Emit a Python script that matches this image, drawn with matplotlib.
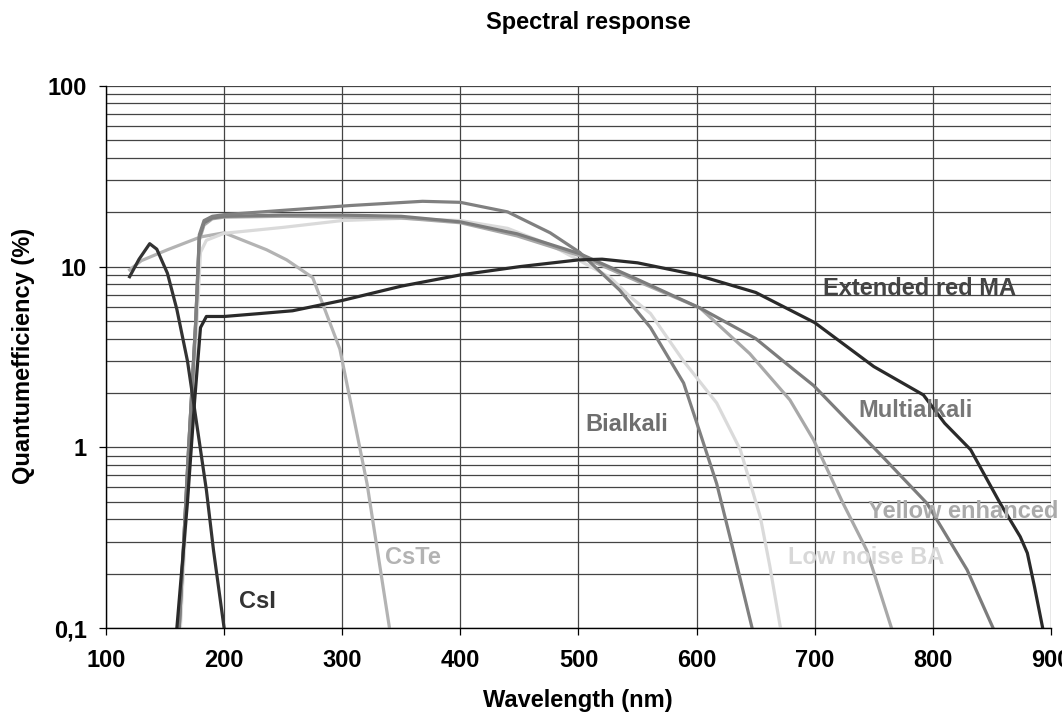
import matplotlib.pyplot as plt
from matplotlib.ticker import FixedLocator, FuncFormatter, LogLocator, NullFormatter

# wavelength (nm) / quantum efficiency (%)
csi_wl = [120, 128, 137, 143, 152, 160, 169, 174, 185, 191, 200]
csi_qe = [8.8, 11.0, 13.4, 12.5, 9.2, 5.8, 3.0, 1.8, 0.58, 0.27, 0.1]

cste_wl = [120, 130, 152, 180, 200, 236, 253, 275, 298, 321, 340]
cste_qe = [9.6, 10.8, 12.4, 14.6, 15.4, 12.4, 10.9, 8.7, 3.5, 0.63, 0.1]

ered_wl = [160, 169, 175, 180, 185, 200, 230, 258, 300, 350, 400, 450, 500, 520,
           550, 600, 650, 700, 750, 792, 810, 832, 857, 874, 880, 886, 893]
ered_qe = [0.1, 0.5, 1.8, 4.6, 5.3, 5.3, 5.5, 5.7, 6.5, 7.8, 9.0, 10.0, 10.9, 11.0,
           10.5, 9.0, 7.2, 4.9, 2.8, 1.95, 1.36, 0.97, 0.49, 0.32, 0.26, 0.17, 0.1]

bia_wl = [162, 170, 176, 179, 183, 190, 200, 250, 307, 368, 400, 440, 476, 501,
          535, 561, 589, 603, 617, 631, 647]
bia_qe = [0.1, 1.0, 5.0, 15.0, 18.0, 19.0, 19.4, 20.5, 21.8, 23.0, 22.7, 20.1, 15.4, 12.0,
          7.4, 4.6, 2.27, 1.2, 0.63, 0.27, 0.1]

multi_wl = [162, 170, 176, 179, 183, 190, 200, 250, 300, 350, 400, 448, 501, 550,
            603, 650, 682, 699, 758, 795, 829, 851]
multi_qe = [0.1, 1.0, 5.0, 14.5, 17.5, 18.6, 19.0, 19.3, 19.3, 19.0, 17.7, 15.2, 11.8, 8.5,
            5.9, 4.0, 2.7, 2.2, 0.88, 0.49, 0.21, 0.1]

yellow_wl = [162, 170, 176, 179, 183, 190, 200, 250, 300, 350, 400, 448, 501, 550,
             603, 645, 679, 699, 724, 744, 765]
yellow_qe = [0.1, 1.0, 5.0, 14.0, 17.0, 18.4, 18.8, 19.0, 18.8, 18.6, 17.5, 14.8, 11.5, 8.3,
             5.9, 3.3, 1.83, 1.1, 0.49, 0.27, 0.1]

lnba_wl = [163, 171, 177, 180, 185, 200, 250, 300, 350, 400, 440, 476, 501, 527,
           544, 561, 589, 617, 637, 654, 662, 671]
lnba_qe = [0.1, 1.0, 5.0, 12.0, 14.0, 15.3, 16.5, 18.0, 18.5, 18.0, 16.3, 13.2, 10.8, 8.7,
           6.8, 5.5, 3.0, 1.76, 0.97, 0.41, 0.22, 0.1]

x_ticks = [100, 200, 300, 400, 500, 600, 700, 800, 900]


def main():
    plt.rcParams['font.family'] = ['Liberation Sans', 'DejaVu Sans']
    plt.rcParams['font.weight'] = 'bold'

    fig = plt.figure(figsize=(10.62, 7.13), dpi=100)
    ax = fig.add_axes([0.0998, 0.1192, 0.8898, 0.7602])

    lw = 2.3
    ax.plot(cste_wl, cste_qe, color='#b3b3b3', lw=lw)
    ax.plot(lnba_wl, lnba_qe, color='#dadada', lw=lw)
    ax.plot(yellow_wl, yellow_qe, color='#a8a8a8', lw=lw)
    ax.plot(multi_wl, multi_qe, color='#7c7c7c', lw=lw)
    ax.plot(bia_wl, bia_qe, color='#808080', lw=lw)
    ax.plot(csi_wl, csi_qe, color='#333333', lw=lw)
    ax.plot(ered_wl, ered_qe, color='#2a2a2a', lw=lw)

    ax.set_yscale('log')
    ax.set_xlim(100, 900)
    ax.set_ylim(0.1, 100)

    ax.xaxis.set_major_locator(FixedLocator(x_ticks))
    ax.yaxis.set_major_locator(LogLocator(base=10))
    ax.yaxis.set_minor_locator(LogLocator(base=10, subs=range(2, 10)))
    ax.yaxis.set_minor_formatter(NullFormatter())
    ax.yaxis.set_major_formatter(FuncFormatter(
        lambda v, p: '0,1' if v < 0.5 else '%d' % round(v)))

    ax.grid(True, which='major', axis='x', color='#444444', lw=0.9)
    ax.grid(True, which='both', axis='y', color='#444444', lw=0.9)
    ax.tick_params(axis='both', which='major', length=5, width=0.9,
                   labelsize=17)
    ax.tick_params(axis='y', which='major', pad=9)
    ax.tick_params(axis='y', which='minor', length=0)
    ax.tick_params(axis='x', pad=10)
    for s in ['top', 'right']:
        ax.spines[s].set_visible(False)
    for s in ['left', 'bottom']:
        ax.spines[s].set_color('black')
        ax.spines[s].set_linewidth(1)

    fig.text(588 / 1062, 1 - 23 / 713, 'Spectral response', fontsize=17,
             weight='bold', ha='center', va='center')
    fig.text(578 / 1062, 1 - 701 / 713, 'Wavelength (nm)', fontsize=17,
             weight='bold', ha='center', va='center')
    fig.text(24 / 1062, 1 - 356 / 713, 'Quantumefficiency (%)', fontsize=17,
             weight='bold', ha='center', va='center', rotation=90)

    lab = dict(fontsize=17, weight='bold', va='center', ha='left')
    ax.text(213, 0.14, 'CsI', color='#333333', **lab)
    ax.text(336, 0.247, 'CsTe', color='#b3b3b3', **lab)
    ax.text(506, 1.33, 'Bialkali', color='#6e6e6e', **lab)
    ax.text(737, 1.59, 'Multialkali', color='#777777', **lab)
    ax.text(707, 7.6, 'Extended red MA', color='#444444', **lab)
    ax.text(745, 0.44, 'Yellow enhanced', color='#aaaaaa', clip_on=False, **lab)
    ax.text(677, 0.247, 'Low noise BA', color='#d8d8d8', **lab)

    plt.savefig('out.png', dpi=100)


if __name__ == "__main__":
    main()
